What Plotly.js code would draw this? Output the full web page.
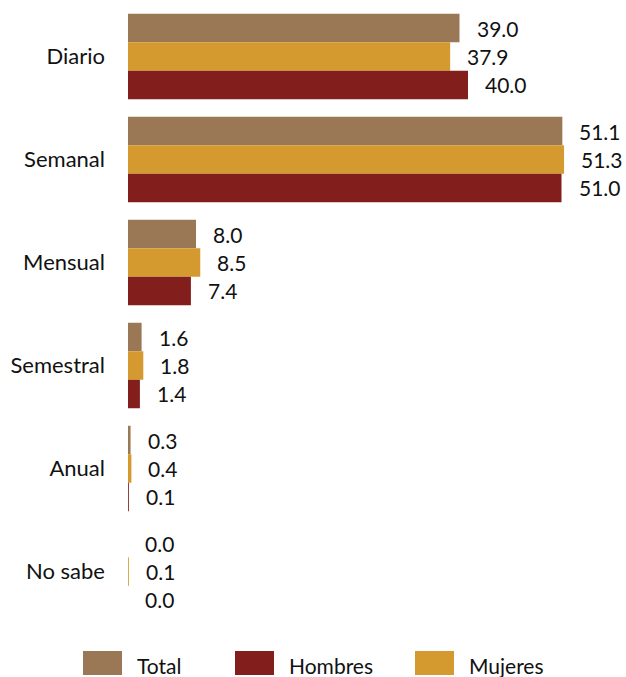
<!DOCTYPE html>
<html>
<head>
<meta charset="utf-8">
<script src="https://cdn.plot.ly/plotly-3.0.1.min.js"></script>
<style>html,body{margin:0;padding:0;background:#fff;}#chart{width:626px;height:677px;}</style>
</head>
<body>
<div id="chart"></div>
<script>
const categories = ["Diario", "Semanal", "Mensual", "Semestral", "Anual", "No sabe"];
const totalValues = [39.0, 51.1, 8.0, 1.6, 0.3, 0.0];
const mujeresValues = [37.9, 51.3, 8.5, 1.8, 0.4, 0.1];
const hombresValues = [40.0, 51.0, 7.4, 1.4, 0.1, 0.0];
const seriesNames = ["Total", "Mujeres", "Hombres"];
const legendOrder = ["Total", "Hombres", "Mujeres"];

const colors = {Total: "#9A7856", Mujeres: "#D49A30", Hombres: "#821E1B"};
const seriesValues = {Total: totalValues, Mujeres: mujeresValues, Hombres: hombresValues};

const FONT = "Lato, 'Open Sans', sans-serif";
const TXT = "#111111";
const H = 677, W = 626;
const mL = 128, mR = 0, mT = 5, mB = 54;
const plotH = H - mT - mB;
const catStep = plotH / categories.length;
const bargap = 0.17;
const barH = catStep * (1 - bargap) / 3;

const traces = seriesNames.map(name => ({
  type: "bar",
  orientation: "h",
  name: name,
  y: categories,
  x: seriesValues[name],
  marker: {color: colors[name], line: {width: 0}},
  showlegend: false,
  hoverinfo: "x+y"
}));

const annotations = [];
seriesNames.forEach((name, i) => {
  const shift = (1 - i) * barH; // Total up, Mujeres center, Hombres down
  seriesValues[name].forEach((v, j) => {
    annotations.push({
      x: v, y: categories[j], xref: "x", yref: "y",
      text: v.toFixed(1), showarrow: false,
      xanchor: "left", yanchor: "middle",
      xshift: 15, yshift: shift,
      font: {family: FONT, size: 21, color: TXT}
    });
  });
});

// legend drawn in the bottom margin
const plotW = W - mL - mR;
const legX = [83, 235, 415];
const shapes = [];
const pyToPaper = py => (mT + plotH - py) / plotH;
legendOrder.forEach((name, i) => {
  shapes.push({
    type: "rect", xref: "paper", yref: "paper",
    x0: (legX[i] - mL) / plotW, x1: (legX[i] + 39 - mL) / plotW,
    y0: pyToPaper(651), y1: pyToPaper(675),
    fillcolor: colors[name], line: {width: 0}
  });
  annotations.push({
    xref: "paper", yref: "paper",
    x: (legX[i] + 52 - mL) / plotW, y: pyToPaper(665),
    text: name, showarrow: false, xanchor: "left", yanchor: "middle",
    font: {family: FONT, size: 21, color: TXT}
  });
});

const layout = {
  width: W, height: H,
  margin: {l: mL, r: mR, t: mT, b: mB, pad: 0},
  paper_bgcolor: "#ffffff", plot_bgcolor: "#ffffff",
  barmode: "group", bargap: bargap, bargroupgap: 0,
  showlegend: false,
  font: {family: FONT, size: 21, color: TXT},
  xaxis: {range: [0, (W - mL - mR) / 8.5], visible: false, showgrid: false, zeroline: false, fixedrange: true},
  yaxis: {
    autorange: "reversed", type: "category",
    showgrid: false, zeroline: false, showline: false, ticks: "",
    ticklabelstandoff: 22,
    tickfont: {family: FONT, size: 22, color: TXT}
  },
  annotations: annotations,
  shapes: shapes
};

Plotly.newPlot("chart", traces, layout, {displayModeBar: false, staticPlot: true});
</script>
</body>
</html>
